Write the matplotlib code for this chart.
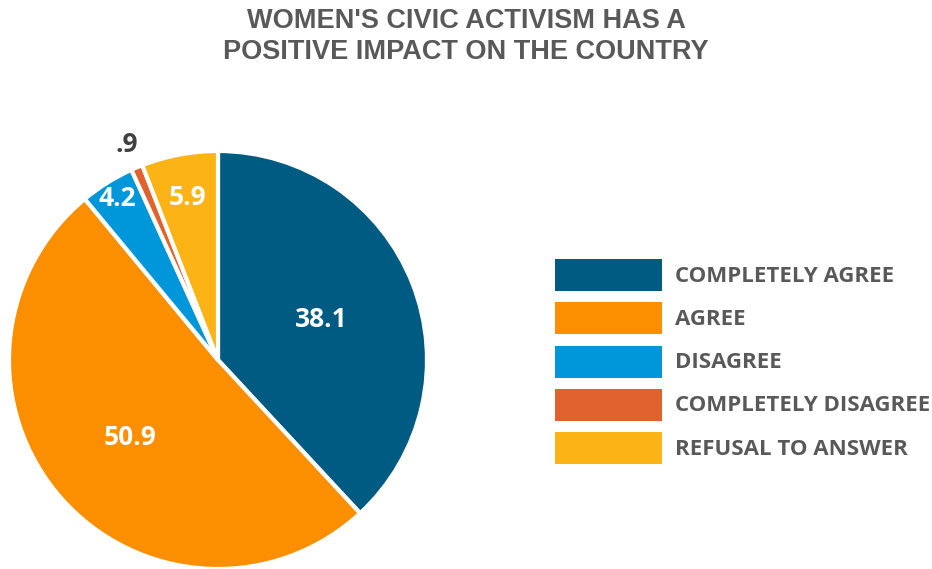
import numpy as np
import matplotlib
matplotlib.use("Agg")
import matplotlib.pyplot as plt
from matplotlib.patches import Rectangle

categories = ["COMPLETELY AGREE", "AGREE", "DISAGREE", "COMPLETELY DISAGREE", "REFUSAL TO ANSWER"]
values = [38.1, 50.9, 4.2, 0.9, 5.9]
value_labels = ["38.1", "50.9", "4.2", ".9", "5.9"]
colors = ["#005B82", "#FB8F00", "#0097DA", "#E0622D", "#FCB316"]

# label radius and colour per wedge
label_r = [0.53, 0.56, 0.91, 1.12, 0.79]
label_c = ["white", "white", "white", "#404040", "white"]

W, H = 932, 569
fig = plt.figure(figsize=(W / 100, H / 100), dpi=100)
fig.patch.set_facecolor("white")

title_lines = ["WOMEN'S CIVIC ACTIVISM HAS A", "POSITIVE IMPACT ON THE COUNTRY"]
for k, line in enumerate(title_lines):
    fig.text(0.5, 1 - (21 + 31 * k) / H, line, ha="center", va="center",
             fontsize=19.5, fontweight="bold", color="#595959", family="Liberation Sans")

# pie
cx, cy, r = 218, 360, 209
ax = fig.add_axes([(cx - r) / W, (H - cy - r) / H, 2 * r / W, 2 * r / H])
ax.axis("off")
wedges, _ = ax.pie(values, colors=colors, startangle=90, counterclock=False, radius=1,
                   wedgeprops=dict(edgecolor="white", linewidth=3))
ax.set_xlim(-1, 1)
ax.set_ylim(-1, 1)

cum = np.cumsum([0] + values[:-1])
for i, v in enumerate(values):
    ang = np.deg2rad(90 - (cum[i] + v / 2) * 3.6)
    ax.text(label_r[i] * np.cos(ang), label_r[i] * np.sin(ang), value_labels[i],
            ha="center", va="center", fontsize=19, fontweight="bold",
            color=label_c[i], family="Open Sans")

# legend
lx = fig.add_axes([0, 0, 1, 1])
lx.set_xlim(0, W)
lx.set_ylim(H, 0)
lx.axis("off")
for i, (name, col) in enumerate(zip(categories, colors)):
    yc = 275 + i * 43.3
    lx.add_patch(Rectangle((555, yc - 16), 107, 32, facecolor=col, edgecolor="none"))
    lx.text(675, yc + 1, name, ha="left", va="center", fontsize=16, fontweight="bold",
            color="#595959", family="Open Sans")

fig.savefig("out.png", dpi=100)
